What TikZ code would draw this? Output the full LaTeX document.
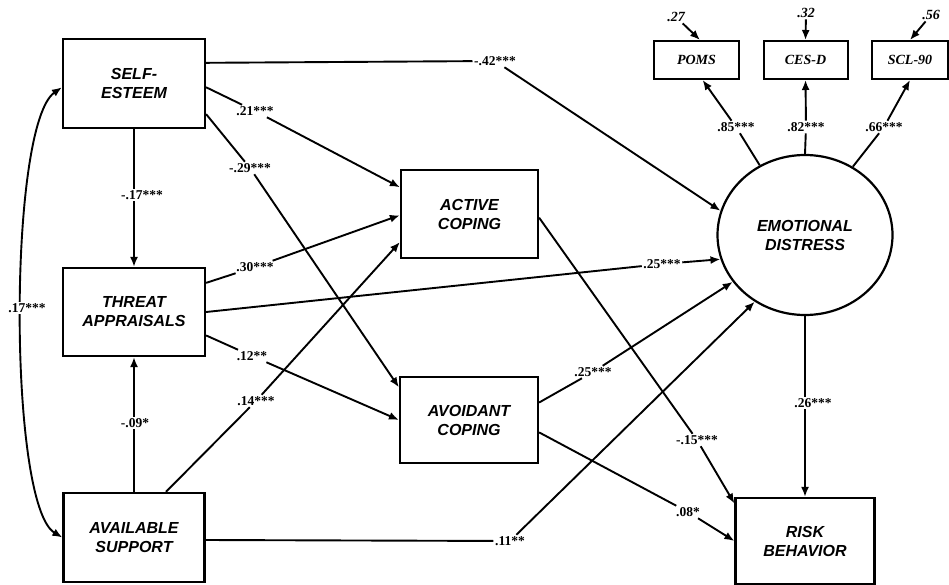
\documentclass[tikz,border=0pt]{standalone}
\usepackage{fontspec}
\setmainfont{Liberation Serif}
\newfontfamily\boxfont{Liberation Sans}
\usetikzlibrary{arrows.meta,shapes.geometric}
\begin{document}
\begin{tikzpicture}[x=1pt,y=-1pt,
 box/.style={draw, line width=2.2pt, align=center, inner sep=0pt, font=\boxfont\bfseries\itshape\fontsize{16}{19}\selectfont},
 small/.style={draw, line width=2pt, inner sep=0pt, minimum height=38pt, font=\bfseries\itshape\fontsize{14}{16}\selectfont},
 arr/.style={line width=1.9pt, -{Latex[length=10pt,width=8pt]}},
 dbl/.style={line width=1.9pt, {Latex[length=10pt,width=8pt]}-{Latex[length=10pt,width=8pt]}},
 lab/.style={inner sep=1.5pt, font=\bfseries\fontsize{13.5}{15}\selectfont},
 labw/.style={lab, fill=white},
 elab/.style={inner sep=1.5pt, font=\bfseries\itshape\fontsize{14}{16}\selectfont},
]
\path[use as bounding box] (0,0) rectangle (949,585);

% boxes
\node[box, minimum width=142pt, minimum height=89pt] (SE) at (134,83.5) {SELF-\\ESTEEM};
\node[box, minimum width=142pt, minimum height=88pt] (TA) at (134,312) {THREAT\\APPRAISALS};
\node[box, minimum width=141pt, minimum height=89pt] (AS) at (134,537.5) {AVAILABLE\\SUPPORT};
\node[box, minimum width=137pt, minimum height=88pt] (AC) at (469.5,214) {ACTIVE\\COPING};
\node[box, minimum width=138pt, minimum height=86pt] (AV) at (469,420) {AVOIDANT\\COPING};
\node[box, minimum width=139pt, minimum height=86pt] (RB) at (805,541) {RISK\\BEHAVIOR};
\node[box, ellipse, minimum width=175pt, minimum height=160pt] (ED) at (805,235) {EMOTIONAL\\DISTRESS};
\node[small, minimum width=85pt] (POMS) at (696.5,60) {POMS};
\node[small, minimum width=84pt] (CESD) at (805.5,60) {CES-D};
\node[small, minimum width=76pt] (SCL) at (910,60) {SCL-90};

% error terms
\node[elab] (E1) at (676,17) {.27};
\node[elab] (E2) at (806,13) {.32};
\node[elab] (E3) at (931,15) {.56};
\draw[arr] (E1) -- (POMS.80);
\draw[arr] (E2) -- (CESD.north);
\draw[arr] (E3) -- (SCL.north);

% labels used as way points
\node[lab] (L42) at (495,61) {-.42***};
\node[lab] (L21) at (255,111) {.21***};
\node[lab] (L29) at (250,168) {-.29***};
\node[lab] (L30) at (255,267) {.30***};
\node[lab] (L25a) at (662,264) {.25***};
\node[lab] (L12) at (252,356) {.12**};
\node[lab] (L14) at (256,401) {.14***};
\node[lab] (L11) at (510,541) {.11**};
\node[lab] (L15) at (697,440) {-.15***};
\node[lab] (L25b) at (593,372) {.25***};
\node[lab] (L08) at (688,512) {.08*};
\node[lab] (L85) at (736,127) {.85***};
\node[lab] (L82) at (806,127) {.82***};
\node[lab] (L66) at (884,127) {.66***};

% paths
\draw[arr] (SE.16.8) -- (L42) -- (ED.164.4);
\draw[arr] (SE.-3.6) -- (L21) -- (AC.159.2);
\draw[arr] (SE.-23.9) -- (L29) -- (AV.155.1);
\draw[arr] (TA.22.2) -- (L30) -- (AC.181.7);
\draw[arr] (TA.0.8) -- (L25a) -- (ED.196.5);
\draw[arr] (TA.-18.7) -- (L12) -- (AV.west);
\draw[arr] (AS.55.1) -- (L14) -- (AC.202.9);
\draw[arr] (AS.-2) -- (L11) -- (ED.233);
\draw[arr] (AC.-3.3) -- (L15) -- (RB.152.6);
\draw[arr] (AV.14.6) -- (L25b) -- (ED.213.9);
\draw[arr] (AV.-10.7) -- (L08) -- (RB.west);
\draw[arr] (ED.123.2) -- (L85) -- (POMS.-73.9);
\draw[arr] (ED.north) -- (L82) -- (CESD.south);
\draw[arr] (ED.55.3) -- (L66) -- (SCL.south);

% vertical paths with labels over them
\draw[arr] (SE.south) -- (TA.north);
\node[labw] (L17a) at (142,195) {-.17***};
\draw[arr] (AS.north) -- (TA.south);
\node[labw] (L09) at (135,423) {-.09*};
\draw[arr] (ED.south) -- (RB.north);
\node[labw] (L26) at (813,403) {.26***};

% correlation
\draw[dbl] (SE.183) .. controls (8,125) and (8,505) .. (AS.west);
\node[labw] (L17b) at (27,308) {.17***};
\end{tikzpicture}
\end{document}
